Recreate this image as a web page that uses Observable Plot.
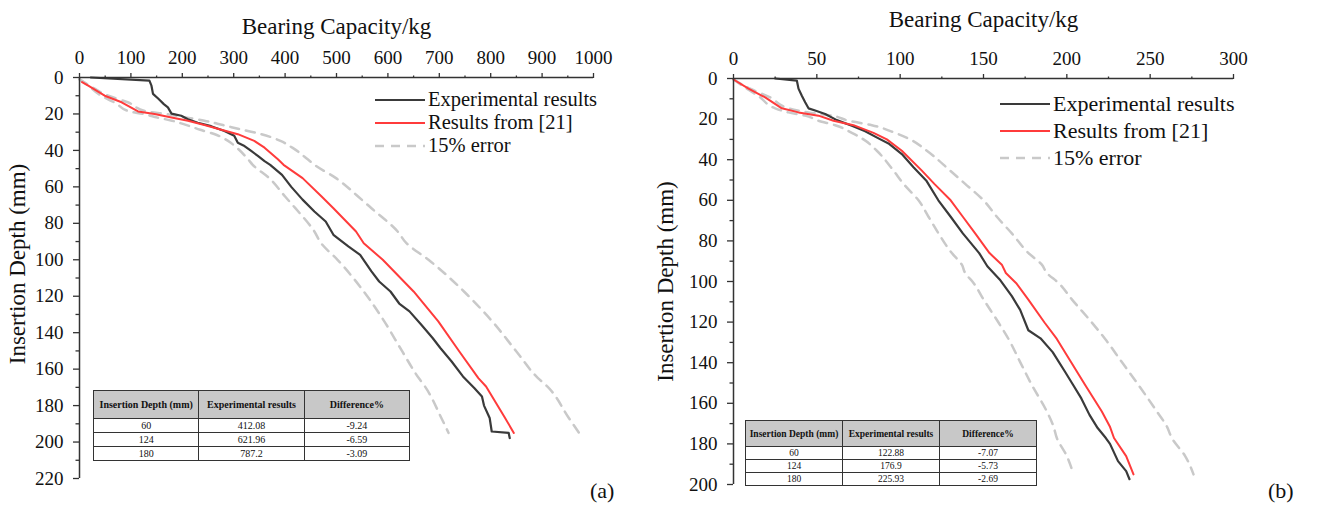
<!DOCTYPE html>
<html><head><meta charset="utf-8">
<script src="https://cdn.jsdelivr.net/npm/d3@7"></script>
<script src="https://cdn.jsdelivr.net/npm/@observablehq/plot@0.6"></script>
<style>
body{margin:0;background:#fff;width:1343px;height:506px;position:relative;overflow:hidden;font-family:'Liberation Serif','Times New Roman','DejaVu Serif',serif;color:#111}
.panel{position:absolute;top:0}
.legend{position:absolute;color:#111}
.legend div{display:flex;align-items:center;white-space:nowrap}
.legend svg{margin-right:3px}
table.t{position:absolute;border-collapse:collapse;font-family:'Liberation Serif','Times New Roman',serif;background:#fff;table-layout:fixed}
table.t th{background:#c8c8c8;font-weight:bold;border:1px solid #333;padding:0;white-space:nowrap}
table.t td{border:1px solid #333;text-align:center;padding:0;line-height:10px}
.tag{position:absolute;font-size:22px}
</style></head><body>
<script>
// ---------- Panel (a) data: [bearing capacity kg, insertion depth mm] ----------
const aExperimental = [[22,0],[136,1.7],[140,4.5],[143,9],[154,11.8],[164,14.6],[172,16.4],[179,19.8],[198,21],[211,22.9],[230,24.8],[256,26.7],[282,29.4],[301,32],[308,35.8],[321,37.6],[334,40.3],[347,43],[360,45.9],[371,47.9],[394,53.4],[412,60],[434,67],[457,73.5],[479,79],[494,86.3],[523,92.7],[546,97.3],[568,106.4],[583,111.9],[605,117.4],[622,124],[642,128.3],[665,135.6],[687,142.9],[702,148.4],[724,155.8],[746,164],[768,170.4],[783,175],[787,180],[798,186.8],[802,194.2],[835,195],[837,197.8]];
const aModel = [[5,2.5],[17,4.5],[49,10],[82,13.6],[114,18.6],[146,20],[179,21.9],[211,23.7],[243,26.1],[276,28.7],[308,31.1],[340,34.8],[360,38.5],[386,44.9],[397,47.9],[434,55.2],[471,65.3],[494,71.7],[538,84.5],[553,90.9],[590,100],[650,117.4],[698,133.8],[739,150.3],[776,164.9],[791,169.5],[828,186.8],[845,195]];
const aErrLow = [[0,1],[15,4],[42,10],[70,14],[97,18.6],[124,20],[152,22],[180,23.7],[207,26],[235,28.7],[262,31],[289,34.8],[306,38.5],[328,44.9],[337,47.9],[369,55.2],[400,65.3],[420,71.7],[457,84.5],[470,90.9],[502,100],[553,117.4],[593,133.8],[628,150.3],[660,164.9],[672,169.5],[704,186.8],[718,195]];
const aErrHigh = [[0,1],[20,4.5],[56,10],[94,13.6],[131,18.6],[168,20],[206,21.9],[243,23.7],[279,26.1],[317,28.7],[354,31.1],[391,34.8],[414,38.5],[444,44.9],[457,47.9],[499,55.2],[542,65.3],[568,71.7],[619,84.5],[636,90.9],[679,100],[748,117.4],[803,133.8],[850,150.3],[892,164.9],[910,169.5],[952,186.8],[972,195]];
const aTableDepth = ["60","124","180"];
const aTableExp = ["412.08","621.96","787.2"];
const aTableDiff = ["-9.24","-6.59","-3.09"];

// ---------- Panel (b) data ----------
const bExperimental = [[25,0],[38,1],[39,5],[41,8.5],[43,11.7],[45,14.7],[49,15.8],[55,17.5],[62,20.5],[71,23.3],[79,26],[87,29.5],[93,32],[101,37.2],[108,43.7],[115.6,50.2],[122.9,60],[130.3,68.1],[137.6,76.3],[147.4,86],[152.3,92.5],[159.7,99],[167,107.2],[172,114],[176.9,124],[184.2,128],[191.5,134.8],[199,144.6],[203.8,151],[208.7,157.6],[213.6,165.7],[218.5,172.2],[223.4,177.1],[225.9,180],[230.7,188.5],[235.6,193.4],[237.6,197.4]];
const bModel = [[0,0.5],[9,5],[19,9.3],[29,14.7],[39,16.7],[51,18.3],[60,20.8],[72,23],[84,26.8],[92,30],[101,35.6],[113,45.4],[120.5,51.9],[130.3,60],[137.6,68.1],[145,76.3],[153.6,86],[161,91.7],[163.4,95.8],[169.5,100.7],[176.8,108.8],[186.6,120.2],[194,128.3],[202.5,139.7],[211,151],[221,164],[225.8,171.4],[228.3,177.1],[235.6,186],[240,195]];
const bErrLow = [[0,0.5],[8,5],[16,9.3],[25,14.7],[33,16.7],[43,18.3],[51,20.8],[61,23],[71,26.8],[78,30],[86,35.6],[96,45.4],[102,51.9],[111,60],[117,68.1],[123,76.3],[131,86],[137,91.7],[139,95.8],[144,100.7],[150,108.8],[159,120.2],[165,128.3],[172,139.7],[179,151],[188,164],[192,171.4],[194,177.1],[200,186],[204,195]];
const bErrHigh = [[0,0.5],[10,5],[22,9.3],[33,14.7],[45,16.7],[59,18.3],[69,20.8],[83,23],[97,26.8],[106,30],[116,35.6],[130,45.4],[139,51.9],[150,60],[158,68.1],[167,76.3],[177,86],[185,91.7],[188,95.8],[195,100.7],[203,108.8],[215,120.2],[223,128.3],[233,139.7],[243,151],[254,164],[260,171.4],[263,177.1],[271,186],[276,195]];
const bTableDepth = ["60","124","180"];
const bTableExp = ["122.88","176.9","225.93"];
const bTableDiff = ["-7.07","-5.73","-2.69"];

// ---------- Axis ticks ----------
const aXMajor = [0,100,200,300,400,500,600,700,800,900,1000];
const aXMinor = [50,150,250,350,450,550,650,750,850,950];
const aYMajor = [0,20,40,60,80,100,120,140,160,180,200,220];
const aYMinor = [10,30,50,70,90,110,130,150,170,190,210];
const bXMajor = [0,50,100,150,200,250,300];
const bXMinor = [25,75,125,175,225,275];
const bYMajor = [0,20,40,60,80,100,120,140,160,180,200];
const bYMinor = [10,30,50,70,90,110,130,150,170,190];

const xTitle = "Bearing Capacity/kg";
const yTitle = "Insertion Depth (mm)";
const legendLabels = ["Experimental results","Results from [21]","15% error"];
const tableHead = ["Insertion Depth (mm)","Experimental results","Difference%"];

const FONT = "'Liberation Serif','Times New Roman','DejaVu Serif',serif";
const C_EXP = "#3a3a3a", C_MOD = "#ff3b3b", C_ERR = "#c9c9c9", C_AX = "#333";

function makePanel(o){
  const px = d => d[0], py = d => d[1];
  const svg = Plot.plot({
    width:o.width, height:506,
    marginLeft:o.ml, marginRight:o.mr, marginTop:o.mt, marginBottom:o.mb,
    style:{fontFamily:FONT, fontSize:"19px", color:"#111", background:"transparent", overflow:"visible"},
    x:{domain:[0,o.xMax]},
    y:{domain:[0,o.yMax], reverse:true},
    marks:[
      Plot.line(o.low,{x:px,y:py,stroke:C_ERR,strokeWidth:2.5,strokeDasharray:"9,7",curve:"monotone-y"}),
      Plot.line(o.high,{x:px,y:py,stroke:C_ERR,strokeWidth:2.5,strokeDasharray:"9,7",curve:"monotone-y"}),
      Plot.line(o.exp,{x:px,y:py,stroke:C_EXP,strokeWidth:2.2}),
      Plot.line(o.mod,{x:px,y:py,stroke:C_MOD,strokeWidth:2}),
      Plot.ruleY([0],{stroke:C_AX,strokeWidth:1.5}),
      Plot.ruleX([0],{stroke:C_AX,strokeWidth:1.5}),
      Plot.axisX(o.xMajor,{anchor:"top",tickSize:5,tickPadding:9,tickFormat:"d",label:null,stroke:C_AX,strokeWidth:1.3,fontFamily:FONT,fontSize:19}),
      Plot.axisX(o.xMinor,{anchor:"top",tickSize:2.5,tickFormat:()=>"",label:null,stroke:C_AX,strokeWidth:1.3}),
      Plot.axisY(o.yMajor,{anchor:"left",tickSize:6,tickPadding:10,tickFormat:"d",label:null,stroke:C_AX,strokeWidth:1.3,fontFamily:FONT,fontSize:19}),
      Plot.axisY(o.yMinor,{anchor:"left",tickSize:3.5,tickFormat:()=>"",label:null,stroke:C_AX,strokeWidth:1.3}),
      Plot.text([xTitle],{frameAnchor:"top",dy:o.titleDy,fontSize:o.titleFs,fill:"#111",fontFamily:FONT}),
      Plot.text([yTitle],{frameAnchor:"left",textAnchor:"middle",lineAnchor:"middle",rotate:-90,dx:o.ylabDx,dy:o.ylabDy,fontSize:o.titleFs,fill:"#111",fontFamily:FONT})
    ]
  });
  svg.setAttribute("font-family", FONT);
  return svg;
}

function addPanel(left,o){
  const d = document.createElement("div");
  d.className="panel"; d.style.left=left+"px";
  d.appendChild(makePanel(o));
  document.body.appendChild(d);
}

function addLegend(left,top,rowH,fs){
  const lg=document.createElement("div");
  lg.className="legend"; lg.style.left=left+"px"; lg.style.top=top+"px"; lg.style.fontSize=fs+"px";
  const styles=[[C_EXP,""],[C_MOD,""],[C_ERR,"9,7"]];
  legendLabels.forEach((t,i)=>{
    const r=document.createElement("div"); r.style.height=rowH+"px";
    const w=50;
    r.innerHTML=`<svg width="${w}" height="6"><line x1="0" x2="${w}" y1="3" y2="3" stroke="${styles[i][0]}" stroke-width="${i==2?2.5:2}" ${styles[i][1]?`stroke-dasharray="${styles[i][1]}"`:""}/></svg><span>${t}</span>`;
    lg.appendChild(r);
  });
  document.body.appendChild(lg);
}

function addTable(left,top,w,headH,rowH,fs,dep,exp,diff){
  const t=document.createElement("table");
  t.className="t"; t.style.left=left+"px"; t.style.top=top+"px"; t.style.width=w+"px"; t.style.fontSize=fs+"px";
  let h=`<tr>${tableHead.map(s=>`<th style="height:${headH}px">${s}</th>`).join("")}</tr>`;
  dep.forEach((v,i)=>{h+=`<tr><td style="height:${rowH}px">${v}</td><td>${exp[i]}</td><td>${diff[i]}</td></tr>`;});
  t.innerHTML=h;
  document.body.appendChild(t);
}

function addTag(left,top,s){
  const e=document.createElement("div"); e.className="tag"; e.style.left=left+"px"; e.style.top=top+"px"; e.textContent=s;
  document.body.appendChild(e);
}

addPanel(0,{width:660,ml:79,mr:67,mt:77,mb:28,xMax:1000,yMax:220,
  exp:aExperimental,mod:aModel,low:aErrLow,high:aErrHigh,
  xMajor:aXMajor,xMinor:aXMinor,yMajor:aYMajor,yMinor:aYMinor,titleDy:-60,ylabDx:-62,ylabDy:-14,titleFs:23});
addPanel(660,{width:683,ml:73,mr:110,mt:78,mb:22,xMax:300,yMax:200,
  exp:bExperimental,mod:bModel,low:bErrLow,high:bErrHigh,
  xMajor:bXMajor,xMinor:bXMinor,yMajor:bYMajor,yMinor:bYMinor,titleDy:-68,ylabDx:-68,ylabDy:0,titleFs:23});

addLegend(375,88,23,20.5);
addLegend(1000,90,27,22);
addTable(93,390,317,27,13,10,aTableDepth,aTableExp,aTableDiff);
addTable(745,420,292,25,12,9.5,bTableDepth,bTableExp,bTableDiff);
addTag(590,478,"(a)");
addTag(1268,478,"(b)");
</script>
</body></html>
